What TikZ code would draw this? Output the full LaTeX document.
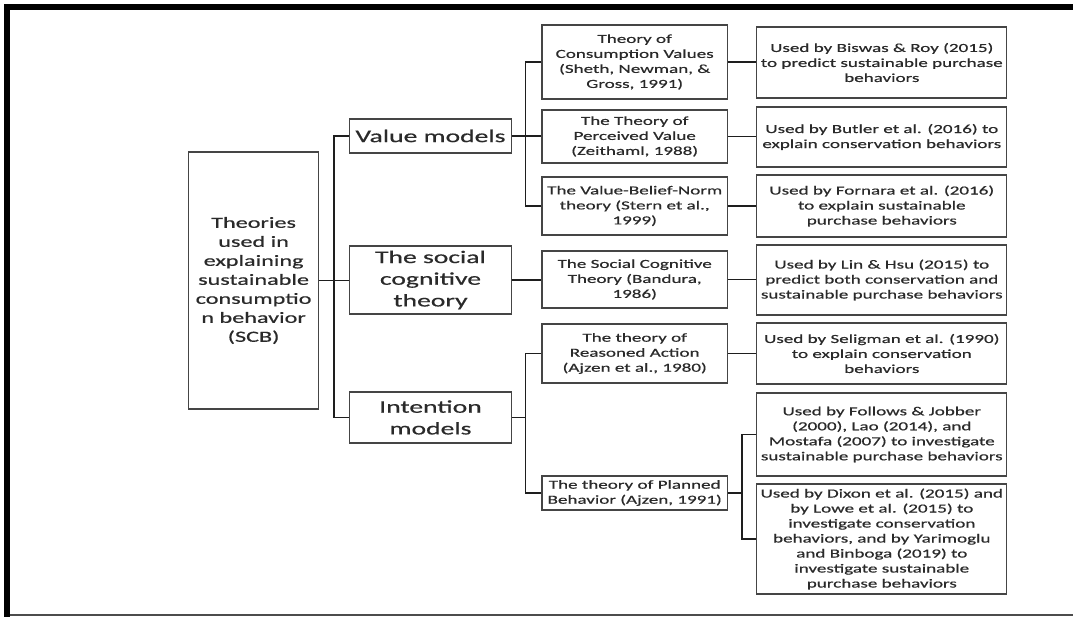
\documentclass[tikz,border=0pt]{standalone}
\usepackage{fontspec}
\setmainfont[FakeStretch=1.55,FakeBold=0.6]{Carlito}
\definecolor{boxc}{HTML}{454545}
\definecolor{txtc}{HTML}{2A2A2A}
\definecolor{linec}{HTML}{1E1E1E}
\begin{document}
\begin{tikzpicture}[x=1pt,y=-1pt,
  box/.style={draw=boxc, line width=1.2pt, inner sep=0pt, align=center, text=txtc},
  rootbox/.style={box, minimum width=129.8pt, minimum height=257pt, font=\fontsize{15.6}{19}\selectfont},
  midbox/.style={box, minimum width=162pt, font=\fontsize{17.8}{21.7}\selectfont},
  thbox/.style={box, minimum width=185.4pt, font=\fontsize{12.3}{15}\selectfont},
  usebox/.style={box, minimum width=250pt, font=\fontsize{12.3}{15}\selectfont},
  conn/.style={draw=linec, line width=1.4pt},
  frame/.style={draw=black, line width=6pt}
]
\useasboundingbox (0,0) rectangle (1073,617);
% outer frame
\draw[frame] (1073,7) -- (7,7) -- (7,617);
\draw[draw=gray!60!black, line width=1.2pt] (10,615) -- (1073,615);

% root
\node[rootbox] (root) at (253.6,280.5) {Theories\\used in\\explaining\\sustainable\\consumptio\\n behavior\\(SCB)};

% level 2
\node[midbox, minimum height=34pt] (vm) at (430.5,136) {Value models};
\node[midbox, minimum height=68pt] (sc) at (430.5,280) {The social\\cognitive\\theory};
\node[midbox, minimum height=51pt] (im) at (430.5,417.5) {Intention\\models};

% level 3
\node[thbox, minimum height=74pt] (cv) at (634.7,62) {Theory of\\Consumption Values\\(Sheth, Newman, \&\\Gross, 1991)};
\node[thbox, minimum height=53pt] (pv) at (634.7,136.5) {The Theory of\\Perceived Value\\(Zeithaml, 1988)};
\node[thbox, minimum height=58pt] (vbn) at (634.7,206) {The Value-Belief-Norm\\theory (Stern et al.,\\1999)};
\node[thbox, minimum height=57pt] (sct) at (634.7,279.5) {The Social Cognitive\\Theory (Bandura,\\1986)};
\node[thbox, minimum height=59pt] (ra) at (634.7,353.5) {The theory of\\Reasoned Action\\(Ajzen et al., 1980)};
\node[thbox, minimum height=34pt] (pb) at (634.7,493) {The theory of Planned\\Behavior (Ajzen, 1991)};

% level 4
\node[usebox, minimum height=71pt] (bis) at (881.8,62.5) {Used by Biswas \& Roy (2015)\\to predict sustainable purchase\\behaviors};
\node[usebox, minimum height=60pt] (but) at (881.8,137) {Used by Butler et al. (2016) to\\explain conservation behaviors};
\node[usebox, minimum height=62pt] (for) at (881.8,206) {Used by Fornara et al. (2016)\\to explain sustainable\\purchase behaviors};
\node[usebox, minimum height=70pt] (lin) at (881.8,280) {Used by Lin \& Hsu (2015) to\\predict both conservation and\\sustainable purchase behaviors};
\node[usebox, minimum height=61pt] (sel) at (881.8,353.5) {Used by Seligman et al. (1990)\\to explain conservation\\behaviors};
\node[usebox, minimum height=83pt] (fol) at (881.8,434.5) {Used by Follows \& Jobber\\(2000), Lao (2014), and\\Mostafa (2007) to investigate\\sustainable purchase behaviors};
\node[usebox, minimum height=110pt] (dix) at (881.8,539) {Used by Dixon et al. (2015) and\\by Lowe et al. (2015) to\\investigate conservation\\behaviors, and by Yarimoglu\\and Binboga (2019) to\\investigate sustainable\\purchase behaviors};

% bus positions
\coordinate (j1) at (334,0);
\coordinate (j2) at (525.5,0);
\coordinate (j3) at (742,0);

% root to level 2
\draw[conn] (root.east) -- (root.east -| sc.west);
\draw[conn] (vm.west) -| (j1 |- im.west) -- (im.west);

% value models
\draw[conn] (vm.east) -- (vm.east -| pv.west);
\draw[conn] (cv.west) -| (j2 |- vbn.west) -- (vbn.west);

% social cognitive
\draw[conn] (sc.east) -- (sc.east -| sct.west);

% intention models
\draw[conn] (im.east) -- (j2 |- im.east);
\draw[conn] (ra.west) -| (j2 |- pb.west) -- (pb.west);

% level 3 to level 4
\draw[conn] (cv.east) -- (cv.east -| bis.west);
\draw[conn] (pv.east) -- (pv.east -| but.west);
\draw[conn] (vbn.east) -- (vbn.east -| for.west);
\draw[conn] (sct.east) -- (sct.east -| lin.west);
\draw[conn] (ra.east) -- (ra.east -| sel.west);
\draw[conn] (pb.east) -- (j3 |- pb.east);
\draw[conn] (fol.west) -| (j3 |- dix.west) -- (dix.west);
\end{tikzpicture}
\end{document}
